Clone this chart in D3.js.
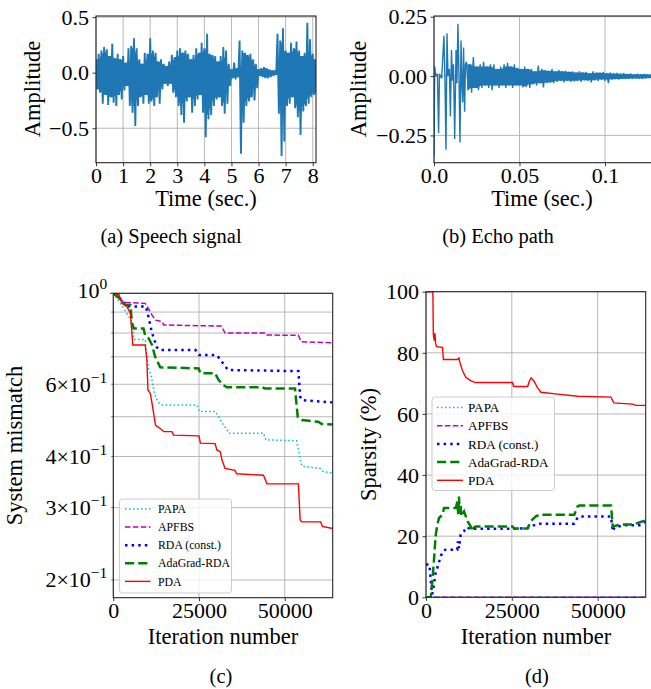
<!DOCTYPE html>
<html>
<head>
<meta charset="utf-8">
<script src="https://cdn.jsdelivr.net/npm/d3@7"></script>
<style>
  body { margin: 0; background: #fff; }
  svg, svg text, svg tspan { font-family: "Liberation Serif", "Times New Roman", serif !important; }
  svg text { fill: #000; }
</style>
</head>
<body>
<svg id="fig"></svg>
<script>
const WIDTH = 651;
const HEIGHT = 689;

// (a) speech signal, envelope per 0.1 s bin (upper / lower extent)
const speechTime = [0.0,0.1,0.2,0.3,0.4,0.5,0.6,0.7,0.8,0.9,1.0,1.1,1.2,1.3,1.4,1.5,1.6,1.7,1.8,1.9,
    2.0,2.1,2.2,2.3,2.4,2.5,2.6,2.7,2.8,2.9,3.0,3.1,3.2,3.3,3.4,3.5,3.6,3.7,3.8,3.9,
    4.0,4.1,4.2,4.3,4.4,4.5,4.6,4.7,4.8,4.9,5.0,5.1,5.2,5.3,5.4,5.5,5.6,5.7,5.8,5.9,
    6.0,6.1,6.2,6.3,6.4,6.5,6.6,6.7,6.8,6.9,7.0,7.1,7.2,7.3,7.4,7.5,7.6,7.7,7.8,7.9,8.0,8.1];
const speechHi = [0.12,0.17,0.20,0.23,0.21,0.15,0.26,0.13,0.17,0.12,0.15,0.09,0.22,0.24,0.31,0.22,0.12,0.08,0.18,0.17,
    0.31,0.20,0.18,0.10,0.12,0.08,0.06,0.10,0.16,0.14,0.20,0.22,0.18,0.20,0.17,0.12,0.16,0.22,0.18,0.27,
    0.22,0.35,0.17,0.16,0.15,0.10,0.15,0.23,0.20,0.08,0.03,0.09,0.04,0.29,0.20,0.18,0.16,0.17,0.12,0.08,
    0.03,0.04,0.05,0.04,0.03,0.02,0.02,0.35,0.29,0.40,0.20,0.18,0.27,0.22,0.28,0.20,0.15,0.18,0.45,0.30,0.17,0.12];
const speechLo = [-0.15,-0.18,-0.28,-0.20,-0.29,-0.22,-0.27,-0.30,-0.20,-0.24,-0.16,-0.12,-0.30,-0.36,-0.48,-0.30,-0.22,-0.28,-0.20,-0.28,
    -0.26,-0.30,-0.22,-0.28,-0.15,-0.10,-0.12,-0.10,-0.18,-0.22,-0.30,-0.38,-0.45,-0.26,-0.22,-0.36,-0.30,-0.24,-0.20,-0.36,
    -0.58,-0.42,-0.38,-0.30,-0.24,-0.22,-0.30,-0.37,-0.28,-0.12,-0.05,-0.06,-0.04,-0.73,-0.45,-0.30,-0.26,-0.22,-0.25,-0.14,
    -0.03,-0.04,-0.05,-0.05,-0.04,-0.03,-0.02,-0.37,-0.75,-0.62,-0.30,-0.28,-0.22,-0.32,-0.40,-0.56,-0.35,-0.30,-0.28,-0.22,-0.20,-0.18];

// (b) echo path: distinct early taps, then envelope per 2 ms bin
const echoTapTime = [0.0000,0.0004,0.0010,0.0020,0.0027,0.0032,0.0045,0.0058,0.0064,0.0070,0.0076,0.0082,0.0090,0.0096,
    0.0102,0.0108,0.0114,0.0121,0.0129,0.0134,0.0140,0.0146,0.0152,0.0158,0.0164,0.0168,0.0173,0.0179,0.0184];
const echoTapValue = [-0.34,0.04,0.00,0.01,-0.24,0.01,-0.01,0.17,-0.01,-0.31,0.18,0.00,0.03,-0.17,
    0.11,-0.02,0.05,-0.265,0.11,-0.03,0.22,0.00,-0.28,0.15,-0.05,-0.11,0.12,-0.15,0.05];
const echoTime = [0.019,0.021,0.023,0.025,0.027,0.029,0.031,0.033,0.035,0.037,0.039,0.041,0.043,0.045,0.047,0.049,
    0.051,0.053,0.055,0.057,0.059,0.061,0.063,0.065,0.067,0.069,0.071,0.073,0.075,0.077,0.079,0.081,
    0.083,0.085,0.087,0.089,0.091,0.093,0.095,0.097,0.099,0.101,0.103,0.105,0.107,0.109,0.111,0.113,
    0.115,0.117,0.119,0.121,0.123,0.125,0.127];
const echoHi = [0.06,0.05,0.08,0.04,0.05,0.06,0.04,0.05,0.05,0.03,0.04,0.05,0.056,0.04,0.05,0.035,
    0.03,0.04,0.03,0.03,0.02,0.044,0.03,0.025,0.022,0.03,0.02,0.025,0.02,0.022,0.018,0.02,
    0.015,0.02,0.015,0.018,0.012,0.02,0.015,0.014,0.018,0.012,0.015,0.011,0.013,0.01,0.012,0.009,
    0.011,0.008,0.01,0.008,0.009,0.008,0.007];
const echoLo = [-0.06,-0.07,-0.05,-0.06,-0.05,-0.04,-0.05,-0.06,-0.04,-0.05,-0.04,-0.05,-0.04,-0.05,-0.04,-0.04,
    -0.048,-0.045,-0.05,-0.035,-0.04,-0.03,-0.048,-0.03,-0.027,-0.03,-0.025,-0.02,-0.027,-0.02,-0.025,-0.022,
    -0.02,-0.025,-0.018,-0.02,-0.027,-0.018,-0.02,-0.015,-0.02,-0.03,-0.015,-0.013,-0.015,-0.012,-0.013,-0.011,
    -0.012,-0.01,-0.011,-0.012,-0.01,-0.009,-0.008];

// (c) system mismatch vs iteration
const methods = ['PAPA', 'APFBS', 'RDA (const.)', 'AdaGrad-RDA', 'PDA'];
const mismatchIter = {
    'PAPA': [0,1500,3000,5500,6000,9300,9800,10300,11100,11800,12300,13200,14200,24400,25100,29700,30700,32100,33100,33600,43800,44500,53500,54200,55000,60300,61300,64000],
    'APFBS': [0,1500,2500,3500,9300,10500,11300,12300,14200,14700,31500,32600,44300,44800,54000,54800,64000],
    'RDA (const.)': [0,2000,4000,9500,10200,11300,12000,12600,13500,24000,25000,30000,31000,32000,33500,54000,54500,55000,64000],
    'AdaGrad-RDA': [0,2000,3500,5000,5450,6000,8800,9300,10300,11300,12200,13700,24900,25400,29700,30700,32100,33100,43300,44300,53000,53800,55000,59800,60800,64000],
    'PDA': [0,1600,2500,4000,4500,5000,5700,9300,9800,10100,10800,11300,12300,14200,14700,17100,17600,25000,25400,29700,30200,31200,31700,32600,35500,36000,43800,44800,54000,54500,55000,60500,61000,64000],
};
const mismatchValue = {
    'PAPA': [1.0,0.96,0.92,0.85,0.772,0.772,0.70,0.656,0.626,0.581,0.56,0.541,0.534,0.534,0.515,0.515,0.50,0.477,0.466,0.456,0.456,0.439,0.437,0.407,0.379,0.374,0.367,0.365],
    'APFBS': [1.0,0.99,0.96,0.95,0.945,0.91,0.885,0.86,0.853,0.837,0.832,0.80,0.80,0.791,0.79,0.762,0.757],
    'RDA (const.)': [1.0,0.97,0.93,0.928,0.88,0.80,0.77,0.74,0.727,0.727,0.707,0.707,0.694,0.675,0.65,0.646,0.56,0.549,0.542],
    'AdaGrad-RDA': [1.0,0.97,0.936,0.936,0.845,0.821,0.821,0.79,0.777,0.748,0.70,0.66,0.656,0.638,0.638,0.615,0.597,0.59,0.59,0.586,0.586,0.50,0.491,0.486,0.48,0.479],
    'PDA': [1.0,0.995,0.945,0.928,0.91,0.89,0.748,0.748,0.688,0.581,0.57,0.539,0.477,0.464,0.46,0.46,0.451,0.449,0.431,0.43,0.415,0.411,0.392,0.374,0.370,0.363,0.36,0.343,0.343,0.28,0.277,0.277,0.27,0.267],
};

// (d) sparsity (%) vs iteration
const sparsityIter = {
    'PAPA': [0,64000],
    'APFBS': [0,64000],
    'RDA (const.)': [0,1000,1500,1800,2300,2800,3400,4300,5000,5800,9100,9300,9600,10100,11100,11600,13000,25200,29600,30500,32000,33000,43200,44200,44700,53900,54400,54900,57800,62600,64000],
    'AdaGrad-RDA': [0,1400,1850,2300,2800,3300,3800,4800,5250,8700,9150,9400,9600,9800,10100,10300,11100,12100,13000,13500,14000,14500,25200,25700,29600,30500,32000,33000,43200,44200,44700,53900,54400,56800,59700,61700,64000],
    'PDA': [0,2000,2140,2400,2600,2800,3100,4800,5060,9200,9600,9900,10600,11600,13000,14000,14500,25200,25500,29600,30100,30600,31500,32500,33500,38300,44200,53900,54700,60200,61200,64000],
};
const sparsityValue = {
    'PAPA': [0,0],
    'APFBS': [0,0],
    'RDA (const.)': [10.7,10.7,4,1,4,8,10,13.5,15.2,15.6,15.6,18.3,16.1,20.5,21.6,22.9,22.4,22.4,22.7,23.2,23.8,24.1,24.1,26.2,26.4,26.4,21.6,22.9,23.6,23.6,24.9],
    'AdaGrad-RDA': [0,0,5.2,11.8,20,23.8,26,27,29.2,29.2,31.4,27,33,27.5,30,26.5,28.1,24.9,23.2,21.6,22.9,23.2,23.2,22.5,22.5,24.9,26.5,27,27,29.8,30,30,23.2,23.8,23.8,24.3,25.2],
    'PDA': [100,100,86,84,86.5,83,82,81.8,77.8,77.8,78.3,76.7,74.2,72,70.9,70.4,70.3,70.3,69,69,70.7,71.8,70.7,68.5,67.1,66.5,65.8,65.5,63.6,63.2,62.8,62.8],
};

// line styles per method
const methodStyle = {
    'PAPA': { color: '#00bfbf', width: 1.5, dash: '1.5,2.5' },
    'APFBS': { color: '#bf00bf', width: 1.5, dash: '5.5,2.4' },
    'RDA (const.)': { color: '#0000ff', width: 2.5, dash: '2.5,4.1' },
    'AdaGrad-RDA': { color: '#008000', width: 2.5, dash: '9.2,4' },
    'PDA': { color: '#ff0000', width: 1.4, dash: null },
};

const SIGNAL_COLOR = '#1f77b4';
const GRID_COLOR = '#b0b0b0';
const FONT = '"Liberation Serif", "Times New Roman", serif';
const TICK_FONT = 22;

let svg = d3.select('#fig').attr('width', WIDTH).attr('height', HEIGHT)
    .style('font-family', FONT);
svg.append('rect').attr('width', WIDTH).attr('height', HEIGHT).attr('fill', '#fff');

////////////////////////////////////////////////////////////////////////////////
// Helpers
////////////////////////////////////////////////////////////////////////////////

function makeClip(id, box) {
    svg.append('clipPath').attr('id', id)
        .append('rect')
        .attr('x', box.l).attr('y', box.t)
        .attr('width', box.r - box.l).attr('height', box.b - box.t);
}

function drawGrid(box, xScale, yScale, xGrid, yGrid) {
    let g = svg.append('g');
    g.selectAll('.vg').data(xGrid).enter().append('line')
        .attr('x1', d => xScale(d)).attr('x2', d => xScale(d))
        .attr('y1', box.t).attr('y2', box.b)
        .attr('stroke', GRID_COLOR).attr('stroke-width', 0.9);
    g.selectAll('.hg').data(yGrid).enter().append('line')
        .attr('x1', box.l).attr('x2', box.r)
        .attr('y1', d => yScale(d)).attr('y2', d => yScale(d))
        .attr('stroke', GRID_COLOR).attr('stroke-width', 0.9);
}

function drawFrame(box, xScale, xTicks, xLabels, yScale, yTicks, yLabels) {
    let g = svg.append('g');

    let xAxis = g.append('g')
        .attr('transform', `translate(0,${box.b})`)
        .call(d3.axisBottom(xScale).tickValues(xTicks)
            .tickSize(3.5).tickPadding(3)
            .tickFormat((d, i) => xLabels[i]));
    xAxis.select('.domain').remove();
    xAxis.selectAll('text').attr('dy', '0.63em');

    if (yTicks) {
        let yAxis = g.append('g')
            .attr('transform', `translate(${box.l},0)`)
            .call(d3.axisLeft(yScale).tickValues(yTicks)
                .tickSize(3.5).tickPadding(3.5)
                .tickFormat((d, i) => yLabels[i]));
        yAxis.select('.domain').remove();
        yAxis.selectAll('text').attr('dy', '0.33em');
    }
    g.selectAll('g').attr('font-family', null).attr('font-size', null);
    g.selectAll('.tick line').attr('stroke', '#222').attr('stroke-width', 0.9);
    g.selectAll('.tick text').attr('fill', '#000')
        .style('font-family', FONT).style('font-size', TICK_FONT + 'px');

    g.append('rect')
        .attr('x', box.l).attr('y', box.t)
        .attr('width', box.r - box.l).attr('height', box.b - box.t)
        .attr('fill', 'none').attr('stroke', '#262626').attr('stroke-width', 1.1);
}

function addText(x, y, txt, size, rotate) {
    let t = svg.append('text')
        .attr('text-anchor', 'middle')
        .style('font-family', FONT).style('font-size', size + 'px')
        .text(txt);
    if (rotate) t.attr('transform', `translate(${x},${y}) rotate(-90)`);
    else t.attr('x', x).attr('y', y);
    return t;
}

function axisLabels(xText, xPos, yText, yPos, caption, capPos) {
    addText(xPos[0], xPos[1], xText, 22.5, false);
    addText(yPos[0], yPos[1], yText, 22.5, true);
    addText(capPos[0], capPos[1], caption, 20.5, false);
}

// zigzag through the upper and lower extent of each bin
function envelopePoints(times, hi, lo, halfBin) {
    let pts = [];
    for (let i = 0; i < times.length; i++) {
        pts.push([times[i], hi[i]]);
        pts.push([times[i] + halfBin, lo[i]]);
    }
    return pts;
}

function drawSignal(clipId, xScale, yScale, times, hi, lo, halfBin, leadPts, width) {
    let g = svg.append('g').attr('clip-path', `url(#${clipId})`);
    // dense core: the smaller extent of each bin and its neighbours
    let core = times.map((t, i) => {
        let w = [i - 1, i, i + 1].filter(j => j >= 0 && j < times.length);
        return {
            t: t + halfBin / 2,
            hi: d3.min(w, j => hi[j]),
            lo: d3.max(w, j => lo[j]),
        };
    });
    g.append('path').datum(core)
        .attr('fill', SIGNAL_COLOR)
        .attr('d', d3.area().x(d => xScale(d.t)).y0(d => yScale(d.lo)).y1(d => yScale(d.hi)));
    g.append('path')
        .datum(leadPts.concat(envelopePoints(times, hi, lo, halfBin)))
        .attr('fill', 'none').attr('stroke', SIGNAL_COLOR).attr('stroke-width', width)
        .attr('stroke-linejoin', 'bevel')
        .attr('d', d3.line().x(d => xScale(d[0])).y(d => yScale(d[1])));
}

function drawLegend(box, rowY, rowGap, lineX, textX, fontSize) {
    let g = svg.append('g');
    g.append('rect')
        .attr('x', box.l).attr('y', box.t)
        .attr('width', box.w).attr('height', box.h)
        .attr('rx', 3)
        .attr('fill', '#fff').attr('fill-opacity', 0.8)
        .attr('stroke', '#cccccc').attr('stroke-width', 1);
    methods.forEach((m, i) => {
        let st = methodStyle[m];
        let y = rowY + i * rowGap;
        g.append('line')
            .attr('x1', lineX[0]).attr('x2', lineX[1])
            .attr('y1', y).attr('y2', y)
            .attr('stroke', st.color).attr('stroke-width', st.width)
            .attr('stroke-dasharray', st.dash);
        g.append('text')
            .attr('x', textX).attr('y', y).attr('dy', '0.35em')
            .style('font-family', FONT).style('font-size', fontSize + 'px')
            .text(m);
    });
}

////////////////////////////////////////////////////////////////////////////////
// (a) Speech signal
////////////////////////////////////////////////////////////////////////////////

let boxA = { l: 96, r: 316, t: 16, b: 162.7 };
let xA = d3.scaleLinear().domain([0, 8.12]).range([boxA.l, boxA.r]);
let yA = d3.scaleLinear().domain([-0.81, 0.51]).range([boxA.b, boxA.t]);
drawGrid(boxA, xA, yA, [0, 1, 2, 3, 4, 5, 6, 7, 8], [-0.5, 0, 0.5]);
makeClip('clipA', boxA);
drawSignal('clipA', xA, yA, speechTime, speechHi, speechLo, 0.05, [], 1.9);
drawFrame(boxA, xA, [0, 1, 2, 3, 4, 5, 6, 7, 8], ['0', '1', '2', '3', '4', '5', '6', '7', '8'],
    yA, [-0.5, 0, 0.5], ['\u22120.5', '0.0', '0.5']);
axisLabels('Time (sec.)', [206, 206], 'Amplitude', [40, 89], '(a) Speech signal', [171, 243]);

////////////////////////////////////////////////////////////////////////////////
// (b) Echo path
////////////////////////////////////////////////////////////////////////////////

let boxB = { l: 434, r: 652, t: 16, b: 162.7 };
let xB = d3.scaleLinear().domain([0, 0.1275]).range([boxB.l, boxB.r]);
let yB = d3.scaleLinear().domain([-0.365, 0.253]).range([boxB.b, boxB.t]);
drawGrid(boxB, xB, yB, [0, 0.05, 0.1], [-0.25, 0, 0.25]);
makeClip('clipB', boxB);
drawSignal('clipB', xB, yB, echoTime, echoHi, echoLo, 0.001,
    echoTapTime.map((t, i) => [t, echoTapValue[i]]), 1.4);
drawFrame(boxB, xB, [0, 0.05, 0.1], ['0.0', '0.05', '0.1'],
    yB, [-0.25, 0, 0.25], ['\u22120.25', '0.00', '0.25']);
axisLabels('Time (sec.)', [542, 206], 'Amplitude', [366, 89], '(b) Echo path', [498, 243]);

////////////////////////////////////////////////////////////////////////////////
// (c) System mismatch
////////////////////////////////////////////////////////////////////////////////

let boxC = { l: 113.3, r: 332.7, t: 293.3, b: 597.7 };
let xC = d3.scaleLinear().domain([0, 64000]).range([boxC.l, boxC.r]);
let yC = d3.scaleLog().domain([0.181, 1]).range([boxC.b, boxC.t]);
let yMinorC = [0.2, 0.3, 0.4, 0.5, 0.6, 0.7, 0.8, 0.9];
drawGrid(boxC, xC, yC, [0, 25000, 50000], [1].concat(yMinorC));
makeClip('clipC', boxC);
methods.forEach(m => {
    let st = methodStyle[m];
    let pts = mismatchIter[m].map((it, i) => [it, mismatchValue[m][i]]);
    svg.append('path').datum(pts)
        .attr('clip-path', 'url(#clipC)')
        .attr('fill', 'none').attr('stroke', st.color).attr('stroke-width', st.width)
        .attr('stroke-dasharray', st.dash)
        .attr('d', d3.line().x(d => xC(d[0])).y(d => yC(d[1])));
});
drawFrame(boxC, xC, [0, 25000, 50000], ['0', '25000', '50000'], yC, null, null);
// log ticks: major at 10^0, minor at 0.2 ... 0.9
let tickC = svg.append('g');
tickC.selectAll('line.major').data([1]).enter().append('line')
    .attr('x1', boxC.l - 3.5).attr('x2', boxC.l)
    .attr('y1', d => yC(d)).attr('y2', d => yC(d))
    .attr('stroke', '#222').attr('stroke-width', 0.9);
tickC.selectAll('line.minor').data(yMinorC).enter().append('line')
    .attr('x1', boxC.l - 2).attr('x2', boxC.l)
    .attr('y1', d => yC(d)).attr('y2', d => yC(d))
    .attr('stroke', '#222').attr('stroke-width', 0.7);
const logLabelValues = [1, 0.6, 0.4, 0.3, 0.2];
const logLabelBase = ['10', '6\u00d710', '4\u00d710', '3\u00d710', '2\u00d710'];
const logLabelExp = ['0', '\u22121', '\u22121', '\u22121', '\u22121'];
logLabelValues.forEach((v, i) => {
    let t = tickC.append('text')
        .attr('x', boxC.l - 6).attr('y', yC(v)).attr('dy', i === 0 ? '0.22em' : '0.33em')
        .attr('text-anchor', 'end')
        .style('font-family', FONT).style('font-size', TICK_FONT + 'px');
    t.append('tspan').text(logLabelBase[i]);
    t.append('tspan').attr('dy', -9).style('font-size', '15.5px').text(logLabelExp[i]);
});
drawLegend({ l: 119.5, t: 499, w: 112, h: 94 }, 509, 18.1, [125, 150.5], 158, 11.8);
axisLabels('Iteration number', [223, 644], 'System mismatch', [22, 445.5], '(c)', [221, 683]);

////////////////////////////////////////////////////////////////////////////////
// (d) Sparsity
////////////////////////////////////////////////////////////////////////////////

let boxD = { l: 426, r: 645.7, t: 291.7, b: 597.3 };
let xD = d3.scaleLinear().domain([0, 64000]).range([boxD.l, boxD.r]);
let yD = d3.scaleLinear().domain([0, 100]).range([boxD.b, boxD.t]);
drawGrid(boxD, xD, yD, [0, 25000, 50000], [0, 20, 40, 60, 80, 100]);
makeClip('clipD', boxD);
methods.forEach(m => {
    let st = methodStyle[m];
    let pts = sparsityIter[m].map((it, i) => [it, sparsityValue[m][i]]);
    svg.append('path').datum(pts)
        .attr('clip-path', 'url(#clipD)')
        .attr('fill', 'none').attr('stroke', st.color).attr('stroke-width', st.width)
        .attr('stroke-dasharray', st.dash)
        .attr('d', d3.line().x(d => xD(d[0])).y(d => yD(d[1])));
});
drawFrame(boxD, xD, [0, 25000, 50000], ['0', '25000', '50000'],
    yD, [0, 20, 40, 60, 80, 100], ['0', '20', '40', '60', '80', '100']);
drawLegend({ l: 432, t: 397, w: 122.5, h: 93.5 }, 407.5, 18.2, [437, 463], 468, 13.2);
axisLabels('Iteration number', [536, 644], 'Sparsity (%)', [376, 444.5], '(d)', [537, 683]);
</script>
</body>
</html>
